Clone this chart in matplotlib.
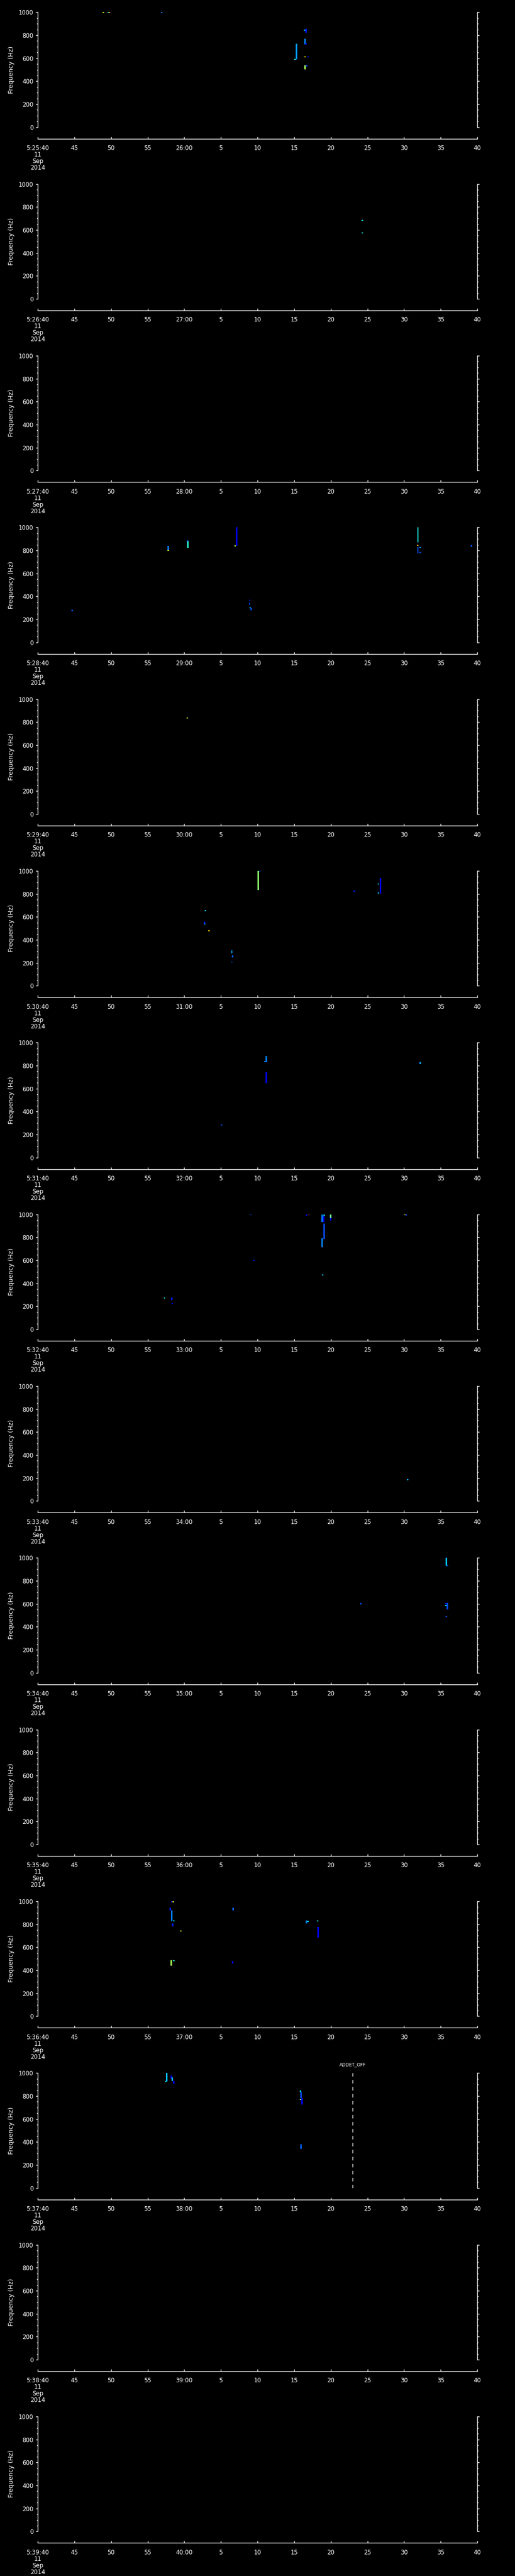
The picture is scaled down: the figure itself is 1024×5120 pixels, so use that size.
import numpy as np
import matplotlib
matplotlib.use("Agg")
import matplotlib.pyplot as plt
from matplotlib.ticker import MultipleLocator

# ---------------- data ----------------
N_PANELS = 15
START_HOUR = 5
START_MINUTE = 25          # first panel starts 5:25:40
START_SECOND = 40
DATE_LINES = ["11", "Sep", "2014"]
TICK_OFFSETS = [0, 5, 10, 15, 20, 25, 30, 35, 40, 45, 50, 55, 60]   # seconds from panel start
FREQ_TICKS = [0, 200, 400, 600, 800, 1000]

# spectrogram features: panel index, time offset (s), freq low/high (Hz), colour level (0..1)
PANEL = [0, 0, 0, 0,
         0, 0, 0, 0, 0, 0, 0, 0, 0, 0,
         1, 1,
         3, 3, 3, 3, 3, 3, 3, 3, 3, 3, 3, 3, 3, 3, 3, 3, 3,
         4,
         5, 5, 5, 5, 5, 5, 5, 5, 5, 5, 5, 5, 5,
         6, 6, 6, 6, 6,
         7, 7, 7, 7, 7, 7, 7, 7, 7, 7, 7, 7, 7, 7, 7, 7, 7,
         8,
         9, 9, 9, 9, 9, 9, 9,
         11, 11, 11, 11, 11, 11, 11, 11, 11, 11, 11, 11, 11, 11, 11,
         12, 12, 12, 12, 12, 12, 12, 12, 12, 12]
T_SEC = [8.95, 9.65, 9.8, 16.95,
         35.3, 35.1, 36.5, 36.65, 36.6, 36.4, 36.5, 36.9, 36.5, 36.7,
         44.3, 44.3,
         4.7, 17.8, 17.8, 20.5, 20.4, 27.15, 26.95, 28.9, 28.9, 29.0, 29.15, 51.9, 51.85, 51.9, 52.2, 52.2, 59.2,
         20.4,
         30.1, 30.3, 46.8, 46.5, 46.5, 43.2, 22.9, 22.75, 22.85, 23.4, 26.5, 26.6, 26.5,
         31.2, 31.0, 31.2, 25.1, 52.2,
         29.1, 36.7, 37.0, 38.85, 39.1, 39.05, 39.1, 38.85, 40.0, 40.0, 50.05, 50.3, 29.5, 38.9, 17.3, 18.3, 18.35,
         50.5,
         55.75, 55.9, 44.1, 55.9, 55.7, 55.7, 55.8,
         18.3, 18.5, 18.1, 18.3, 18.55, 18.45, 19.5, 18.25, 18.6, 26.7, 26.6, 36.7, 36.9, 38.2, 38.25,
         17.6, 17.45, 18.2, 18.35, 18.55, 35.9, 35.95, 36.05, 35.85, 35.95]
F_LO = [994, 994, 994, 994,
        590, 584, 720, 716, 822, 838, 608, 606, 502, 530,
        680, 570,
        271, 797, 795, 820, 878, 839, 836, 362, 325, 295, 277, 871, 838, 775, 820, 778, 832,
        834,
        832, 994, 804, 883, 803, 815, 651, 537, 535, 475, 282, 248, 201,
        832, 830, 645, 281, 814,
        992, 986, 994, 933, 986, 933, 785, 715, 968, 946, 993, 990, 597, 469, 268, 256, 221,
        183,
        931, 928, 593, 549, 583, 600, 486,
        992, 992, 922, 828, 825, 779, 739, 441, 480, 920, 455, 809, 820, 826, 686,
        926, 924, 955, 930, 907, 834, 783, 724, 765, 340]
F_HI = [1003, 1003, 1003, 1003,
        727, 592, 768, 728, 856, 846, 616, 616, 537, 540,
        688, 578,
        283, 839, 803, 883, 886, 1000, 845, 372, 345, 305, 295, 1004, 846, 830, 830, 788, 847,
        842,
        1000, 1002, 939, 891, 811, 828, 659, 556, 541, 483, 308, 263, 213,
        882, 838, 742, 289, 832,
        1000, 1000, 1000, 1000, 1000, 986, 918, 794, 1000, 968, 1002, 998, 606, 478, 277, 276, 229,
        191,
        1000, 935, 607, 607, 590, 607, 494,
        1000, 1000, 941, 922, 833, 806, 747, 488, 488, 942, 477, 835, 830, 834, 777,
        1000, 930, 980, 960, 930, 848, 834, 783, 772, 378]
LEVEL = [0.6, 0.35, 0.75, 0.25,
         0.27, 0.4, 0.25, 0.12, 0.15, 0.3, 0.68, 0.12, 0.55, 0.2,
         0.36, 0.36,
         0.2, 0.25, 0.62, 0.4, 0.2, 0.12, 0.55, 0.15, 0.18, 0.3, 0.2, 0.38, 0.72, 0.2, 0.25, 0.2, 0.2,
         0.62,
         0.52, 0.2, 0.1, 0.3, 0.3, 0.15, 0.35, 0.15, 0.35, 0.68, 0.28, 0.22, 0.2,
         0.25, 0.25, 0.13, 0.2, 0.28,
         0.2, 0.1, 0.85, 0.25, 0.33, 0.1, 0.2, 0.25, 0.48, 0.12, 0.65, 0.2, 0.15, 0.32, 0.38, 0.15, 0.12,
         0.3,
         0.32, 0.2, 0.2, 0.2, 0.35, 0.15, 0.2,
         0.15, 0.65, 0.15, 0.25, 0.35, 0.15, 0.6, 0.55, 0.38, 0.22, 0.12, 0.25, 0.35, 0.38, 0.12,
         0.32, 0.32, 0.1, 0.3, 0.1, 0.35, 0.2, 0.12, 0.5, 0.22]

EVENT_PANEL = [12]
EVENT_TIME = [43.0]
EVENT_LABEL = ["ADDET_OFF"]

# ---------------- layout ----------------
W, H = 1024, 5120
fig = plt.figure(figsize=(W / 100, H / 100), dpi=100, facecolor="black")
panel_h = H / N_PANELS
left_px, right_px = 75, 949
top_off, bot_off = 24.3, 252.7
cmap = plt.get_cmap("jet")

PANEL_A = np.array(PANEL)
T_A = np.array(T_SEC)
FLO_A = np.array(F_LO)
FHI_A = np.array(F_HI)
LEV_A = np.array(LEVEL)

for k in range(N_PANELS):
    top_px = k * panel_h + top_off
    bot_px = k * panel_h + bot_off
    ax = fig.add_axes([left_px / W, 1 - bot_px / H, (right_px - left_px) / W, (bot_px - top_px) / H])
    ax.set_facecolor("black")
    ax.set_xlim(0, 60)
    ax.set_ylim(0, 1000)

    m = PANEL_A == k
    if m.any():
        ax.bar(T_A[m], FHI_A[m] - FLO_A[m], bottom=FLO_A[m], width=0.2,
               color=cmap(LEV_A[m]), linewidth=0, align="center")

    for p, t, lab in zip(EVENT_PANEL, EVENT_TIME, EVENT_LABEL):
        if p == k:
            ax.axvline(t, color="white", lw=1, linestyle=(0, (5, 5)))
            ax.annotate(lab, xy=(t, 1.075), xycoords=("data", "axes fraction"),
                        ha="center", va="center", color="white", fontsize=6.5)

    for s in ["left", "right", "bottom"]:
        ax.spines[s].set_color("white")
        ax.spines[s].set_linewidth(1)
    ax.spines["top"].set_visible(False)
    ax.spines["bottom"].set_position(("outward", 16.5))

    # x axis labels
    labels = []
    for o in TICK_OFFSETS:
        total = START_SECOND + o
        minute = START_MINUTE + k + total // 60
        sec = total % 60
        if o == 0:
            labels.append(f"{START_HOUR}:{minute:02d}:{sec:02d}\n" + "\n".join(DATE_LINES))
        elif sec == 0:
            labels.append(f"{minute:02d}:00")
        else:
            labels.append(f"{sec}")
    ax.set_xticks(TICK_OFFSETS)
    ax.set_xticklabels(labels, linespacing=1.0)
    ax.tick_params(axis="x", direction="in", length=3, width=1, colors="white",
                   pad=9, labelsize=8.5)

    ax.set_yticks(FREQ_TICKS)
    ax.yaxis.set_minor_locator(MultipleLocator(50))
    ax.tick_params(axis="y", which="major", direction="out", length=3, width=1,
                   colors="white", left=True, right=True, labelleft=True,
                   labelright=False, pad=3, labelsize=8.5)
    ax.tick_params(axis="y", which="minor", direction="out", length=1.6, width=1,
                   colors="white", left=True, right=True)
    ax.set_ylabel("Frequency (Hz)", color="white", fontsize=9, labelpad=6)

fig.savefig("out.png", dpi=100, facecolor="black")
